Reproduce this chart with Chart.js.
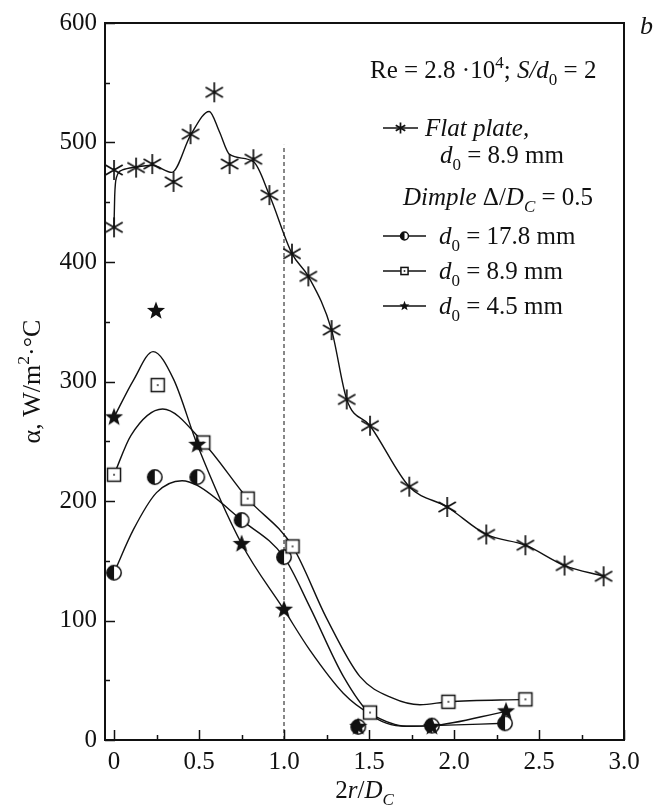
<!DOCTYPE html>
<html>
<head>
<meta charset="utf-8">
<script src="https://cdn.jsdelivr.net/npm/chart.js@4.4.0/dist/chart.umd.min.js"></script>
<style>
  html, body { margin: 0; padding: 0; background: #fff; }
</style>
</head>
<body>
<canvas id="chart" width="658" height="808"></canvas>
<script>
// Flat plate, d0 = 8.9 mm (asterisks) - measured points
const flatX = [0, 0, 0.13, 0.225, 0.35, 0.45, 0.59, 0.68, 0.82, 0.914, 1.047, 1.143, 1.28, 1.369, 1.506, 1.737, 1.96, 2.19, 2.42, 2.65, 2.88];
const flatY = [477, 429, 479, 482, 467, 507, 542, 482, 486, 456, 407, 388, 343, 285, 263, 212, 195, 172, 163, 146, 137];
// fitted curve through them
const flatLineX = [0, 0.004, 0.015, 0.05, 0.13, 0.225, 0.34, 0.45, 0.56, 0.62, 0.68, 0.82, 0.914, 1.047, 1.143, 1.28, 1.369, 1.506, 1.737, 1.96, 2.19, 2.42, 2.65, 2.88];
const flatLineY = [429, 455, 471, 477, 479.5, 481, 475, 506, 526, 509, 490, 484, 456, 407, 388, 343, 285, 263, 212, 195, 172, 163, 146, 137];

// Dimple, d0 = 17.8 mm (half filled circles)
const circX = [0, 0.24, 0.49, 0.751, 1.0, 1.437, 1.87, 2.3];
const circY = [140, 220, 220, 184, 153, 11, 12, 14];
const circLineX = [0, 0.114, 0.25, 0.40, 0.49, 0.751, 1.0, 1.153, 1.35, 1.506, 1.72, 1.87, 2.3];
const circLineY = [140, 176, 207, 217, 213, 184, 153, 111, 53, 22, 11.5, 12, 14];

// Dimple, d0 = 8.9 mm (squares)
const sqX = [0, 0.257, 0.525, 0.786, 1.05, 1.506, 1.967, 2.42];
const sqY = [222, 297, 249, 202, 162, 23, 32, 34];
const sqLineX = [0, 0.1, 0.286, 0.525, 0.786, 1.05, 1.25, 1.447, 1.64, 1.8, 1.967, 2.42];
const sqLineY = [222, 255, 277, 249, 202, 162, 102, 53, 35, 29.5, 32, 34];

// Dimple, d0 = 4.5 mm (stars)
const stX = [0, 0.247, 0.49, 0.751, 1.0, 1.437, 1.87, 2.306];
const stY = [270, 359, 247, 164, 109, 11, 11, 24];
const stLineX = [0, 0.114, 0.23, 0.35, 0.49, 0.751, 1.0, 1.153, 1.35, 1.506, 1.72, 1.87, 2.306];
const stLineY = [270, 301, 325, 302, 247, 164, 109, 75, 39, 22, 11.5, 12, 24];

// vertical dashed line at 2r/Dc = 1
const dashX = [1, 1];
const dashY = [0, 498];

// axes
const xTicks = [0, 0.25, 0.5, 0.75, 1.0, 1.25, 1.5, 1.75, 2.0, 2.25, 2.5, 2.75, 3.0];
const xLabels = ['0', '', '0.5', '', '1.0', '', '1.5', '', '2.0', '', '2.5', '', '3.0'];
const yTicks = [0, 50, 100, 150, 200, 250, 300, 350, 400, 450, 500, 550, 600];
const yLabels = ['0', '', '100', '', '200', '', '300', '', '400', '', '500', '', '600'];

const INK = '#111';
const SERIF = '"Liberation Serif", "DejaVu Serif", serif';

function pts(xs, ys) {
    return xs.map((v, i) => ({ x: v, y: ys[i] }));
}

// marker shapes
function asterisk(g, cx, cy, r, lw) {
    g.strokeStyle = INK;
    g.lineWidth = lw;
    g.beginPath();
    [90, 30, 150].forEach(d => {
        const a = d * Math.PI / 180;
        g.moveTo(cx + r * Math.cos(a), cy - r * Math.sin(a));
        g.lineTo(cx - r * Math.cos(a), cy + r * Math.sin(a));
    });
    g.stroke();
}

function halfCircle(g, cx, cy, r, lw) {
    g.beginPath();
    g.arc(cx, cy, r, 0, Math.PI * 2);
    g.fillStyle = '#fff';
    g.fill();
    g.beginPath();
    g.arc(cx, cy, r, Math.PI / 2, Math.PI * 1.5);
    g.closePath();
    g.fillStyle = INK;
    g.fill();
    g.beginPath();
    g.arc(cx, cy, r, 0, Math.PI * 2);
    g.lineWidth = lw;
    g.strokeStyle = INK;
    g.stroke();
}

function dotSquare(g, cx, cy, h, lw) {
    g.fillStyle = '#fff';
    g.fillRect(cx - h, cy - h, 2 * h, 2 * h);
    g.lineWidth = lw;
    g.strokeStyle = INK;
    g.strokeRect(cx - h, cy - h, 2 * h, 2 * h);
    g.fillStyle = INK;
    g.fillRect(cx - 0.8, cy - 0.8, 1.6, 1.6);
}

function fiveStar(g, cx, cy, R) {
    const r = R * 0.42;
    g.beginPath();
    for (let k = 0; k < 10; k++) {
        const a = -Math.PI / 2 + k * Math.PI / 5;
        const rr = k % 2 ? r : R;
        g.lineTo(cx + rr * Math.cos(a), cy + rr * Math.sin(a));
    }
    g.closePath();
    g.fillStyle = INK;
    g.fill();
}

function drawMarker(g, kind, cx, cy, s) {
    if (kind === 'ast') asterisk(g, cx, cy, 10 * s, 1.7);
    if (kind === 'circ') halfCircle(g, cx, cy, 7.2 * s, 1.5);
    if (kind === 'sq') dotSquare(g, cx, cy, 6.5 * s, 1.5);
    if (kind === 'star') fiveStar(g, cx, cy, 9.5 * s);
}

function markerImage(kind) {
    const c = document.createElement('canvas');
    c.width = 24;
    c.height = 24;
    drawMarker(c.getContext('2d'), kind, 12, 12, 1);
    return c;
}

// text with italic / sub / sup runs
function rich(ctx, x, y, runs, size, align) {
    const parts = runs.map(([t, f = '']) => {
        const small = f.includes('sub') || f.includes('sup');
        const s = small ? size * 0.68 : size;
        const font = (f.includes('i') ? 'italic ' : '') + s + 'px ' + SERIF;
        ctx.font = font;
        const dy = f.includes('sub') ? size * 0.28 : f.includes('sup') ? -size * 0.42 : 0;
        return { t, font, dy, w: ctx.measureText(t).width };
    });
    const w = parts.reduce((a, p) => a + p.w, 0);
    let cx = align === 'center' ? x - w / 2 : x;
    parts.forEach(p => {
        ctx.font = p.font;
        ctx.fillText(p.t, cx, y + p.dy);
        cx += p.w;
    });
}

const overlay = {
    id: 'overlay',
    afterDraw(chart) {
        const { ctx, chartArea: a, scales: { x, y } } = chart;
        ctx.save();
        ctx.strokeStyle = INK;
        ctx.fillStyle = INK;

        // inward ticks
        ctx.lineWidth = 1.5;
        ctx.beginPath();
        x.ticks.forEach(t => {
            const px = Math.round(x.getPixelForValue(t.value)) + 0.5;
            const len = t.label === '' ? 5 : 10;
            ctx.moveTo(px, a.bottom);
            ctx.lineTo(px, a.bottom - len);
        });
        y.ticks.forEach(t => {
            const py = Math.round(y.getPixelForValue(t.value)) + 0.5;
            const len = t.label === '' ? 5 : 10;
            ctx.moveTo(a.left, py);
            ctx.lineTo(a.left + len, py);
        });
        ctx.stroke();

        // frame
        ctx.lineWidth = 2;
        ctx.strokeRect(a.left, a.top, a.right - a.left, a.bottom - a.top);

        // axis titles
        ctx.textBaseline = 'alphabetic';
        rich(ctx, (a.left + a.right) / 2, 798, [['2'], ['r', 'i'], ['/'], ['D', 'i'], ['C', 'i sub']], 25, 'center');
        ctx.save();
        ctx.translate(40, (a.top + a.bottom) / 2);
        ctx.rotate(-Math.PI / 2);
        rich(ctx, 0, 0, [['α, W/m'], ['2', 'sup'], ['·°C']], 26, 'center');
        ctx.restore();

        // panel letter and legend
        rich(ctx, 640, 34, [['b', 'i']], 26);
        rich(ctx, 370, 78, [['Re = 2.8 ·10'], ['4', 'sup'], ['; '], ['S/d', 'i'], ['0', 'sub'], [' = 2']], 25);

        const rows = [
            { kind: 'ast', y: 128, x0: 383, x1: 418 },
            { kind: 'circ', y: 236, x0: 383, x1: 426 },
            { kind: 'sq', y: 271, x0: 383, x1: 426 },
            { kind: 'star', y: 306, x0: 383, x1: 426 }
        ];
        rows.forEach(r => {
            ctx.lineWidth = 1.3;
            ctx.beginPath();
            ctx.moveTo(r.x0, r.y);
            ctx.lineTo(r.x1, r.y);
            ctx.stroke();
            drawMarker(ctx, r.kind, (r.x0 + r.x1) / 2, r.y, 0.55);
        });
        ctx.fillStyle = INK;
        rich(ctx, 425, 136, [['Flat plate,', 'i']], 25);
        rich(ctx, 440, 163, [['d', 'i'], ['0', 'sub'], [' = 8.9 mm']], 25);
        rich(ctx, 403, 205, [['Dimple ', 'i'], ['Δ/'], ['D', 'i'], ['C', 'i sub'], [' = 0.5']], 25);
        rich(ctx, 439, 244, [['d', 'i'], ['0', 'sub'], [' = 17.8 mm']], 25);
        rich(ctx, 439, 279, [['d', 'i'], ['0', 'sub'], [' = 8.9 mm']], 25);
        rich(ctx, 439, 314, [['d', 'i'], ['0', 'sub'], [' = 4.5 mm']], 25);
        ctx.restore();
    }
};

function markerSet(xs, ys, kind) {
    return {
        data: pts(xs, ys),
        showLine: false,
        pointStyle: markerImage(kind),
        pointRadius: 8,
        pointHoverRadius: 8
    };
}

function curveSet(xs, ys) {
    return {
        data: pts(xs, ys),
        showLine: true,
        borderColor: INK,
        borderWidth: 1.4,
        pointRadius: 0,
        cubicInterpolationMode: 'monotone'
    };
}

new Chart(document.getElementById('chart'), {
    type: 'scatter',
    data: {
        datasets: [
            markerSet(stX, stY, 'star'),
            markerSet(sqX, sqY, 'sq'),
            markerSet(circX, circY, 'circ'),
            markerSet(flatX, flatY, 'ast'),
            {
                data: pts(dashX, dashY),
                showLine: true,
                borderColor: INK,
                borderWidth: 1,
                borderDash: [4, 3],
                pointRadius: 0
            },
            curveSet(stLineX, stLineY),
            curveSet(sqLineX, sqLineY),
            curveSet(circLineX, circLineY),
            curveSet(flatLineX, flatLineY)
        ]
    },
    options: {
        responsive: false,
        animation: false,
        devicePixelRatio: 1,
        layout: { padding: { left: 0, top: 17, right: 34, bottom: 0 } },
        plugins: { legend: { display: false }, tooltip: { enabled: false } },
        scales: {
            x: {
                type: 'linear',
                min: -0.053,
                max: 3.0,
                afterBuildTicks: s => { s.ticks = xTicks.map(v => ({ value: v })); },
                afterFit: s => { s.height = 68; },
                grid: { display: false, drawTicks: false },
                border: { display: false },
                ticks: {
                    autoSkip: false,
                    maxRotation: 0,
                    padding: 7,
                    color: INK,
                    font: { family: SERIF, size: 25 },
                    callback: (v, i) => xLabels[i]
                }
            },
            y: {
                type: 'linear',
                min: 0,
                max: 600,
                afterBuildTicks: s => { s.ticks = yTicks.map(v => ({ value: v })); },
                afterFit: s => { s.width = 105; },
                grid: { display: false, drawTicks: false },
                border: { display: false },
                ticks: {
                    autoSkip: false,
                    padding: 8,
                    color: INK,
                    font: { family: SERIF, size: 25 },
                    callback: (v, i) => yLabels[i]
                }
            }
        }
    },
    plugins: [overlay]
});
</script>
</body>
</html>
